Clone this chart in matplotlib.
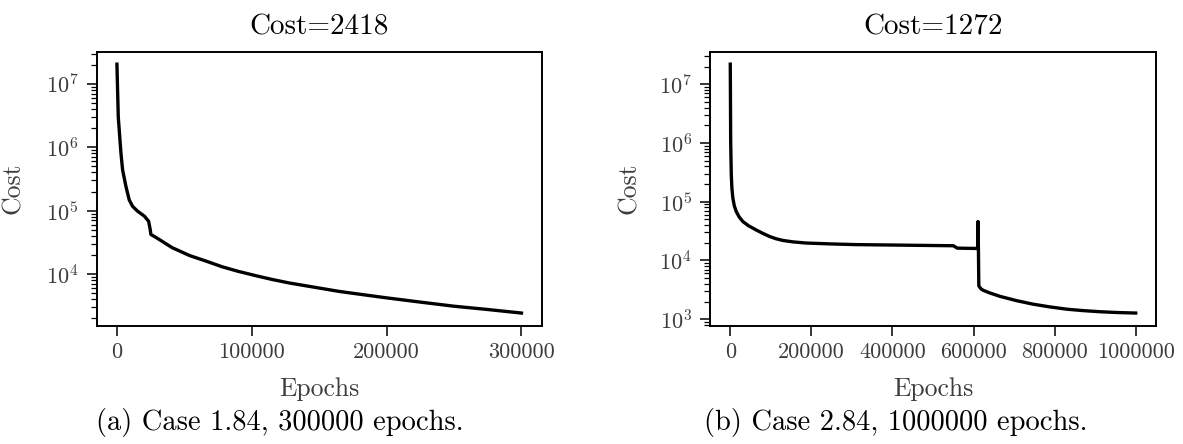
import matplotlib
matplotlib.use("Agg")
import matplotlib.pyplot as plt

plt.rcParams.update({
    "font.family": "serif",
    "font.serif": ["cmr10"],
    "mathtext.fontset": "cm",
    "axes.formatter.use_mathtext": True,
    "axes.unicode_minus": False,
})

# Case 1.84: cost history over 300000 epochs
epochs_a = [0, 1000, 3000, 4200, 6700, 9100, 11600, 15300, 20300, 23500,
            24700, 25200, 29000, 41000, 54000, 66000, 78000, 90000, 103000,
            115000, 128000, 150000, 165000, 183000, 200000, 225000, 250000,
            275000, 300000]
cost_a = [2.05e7, 3.0e6, 8.0e5, 4.4e5, 2.4e5, 1.48e5, 1.17e5, 9.8e4, 8.2e4, 6.8e4,
          5.0e4, 4.2e4, 3.77e4, 2.6e4, 1.95e4, 1.6e4, 1.3e4, 1.1e4, 9.4e3,
          8.2e3, 7.2e3, 6.0e3, 5.3e3, 4.7e3, 4.2e3, 3.6e3, 3.1e3,
          2.75e3, 2418]

# Case 2.84: cost history over 1000000 epochs
epochs_b = [0, 500, 1000, 2500, 4000, 6400, 10000, 14800, 22000, 31000,
            45000, 64000, 80000, 97000, 112000, 130000, 155000, 187000, 250000,
            311000, 430000, 550000, 555000, 560000, 607000, 610000, 611000,
            612000, 613000, 618000, 624000, 640000, 665000, 706000, 747000,
            788000, 830000, 870000, 912000, 953000, 1000000]
cost_b = [2.2e7, 5.0e6, 1.07e6, 2.9e5, 1.7e5, 1.15e5, 8.5e4, 6.8e4, 5.5e4, 4.6e4,
          3.9e4, 3.3e4, 2.9e4, 2.56e4, 2.35e4, 2.19e4, 2.07e4, 1.98e4, 1.91e4,
          1.86e4, 1.82e4, 1.78e4, 1.7e4, 1.62e4, 1.6e4, 1.6e4, 4.6e4,
          1.6e4, 3.7e3, 3.3e3, 3.1e3, 2.8e3, 2.45e3, 2.07e3, 1.8e3,
          1.62e3, 1.48e3, 1.4e3, 1.34e3, 1.3e3, 1272]

titles = ["Cost=2418", "Cost=1272"]
captions = ["(a) Case 1.84, 300000 epochs.", "(b) Case 2.84, 1000000 epochs."]
xticks_a = [0, 100000, 200000, 300000]
xticks_b = [0, 200000, 400000, 600000, 800000, 1000000]

W, H = 1183, 444
fig = plt.figure(figsize=(W / 100, H / 100), dpi=100)

label_color = "#3c3c3c"

def px_rect(x0, y0, x1, y1):
    return [x0 / W, 1 - y1 / H, (x1 - x0) / W, (y1 - y0) / H]

ax_a = fig.add_axes(px_rect(96.7, 51.7, 541.7, 325.5))
ax_b = fig.add_axes(px_rect(710, 51.7, 1156, 325.5))

panels = [
    (ax_a, epochs_a, cost_a, xticks_a, titles[0]),
    (ax_b, epochs_b, cost_b, xticks_b, titles[1]),
]

for ax, ep, cost, xt, title in panels:
    ax.plot(ep, cost, color="black", lw=2.4, solid_joinstyle="round")
    ax.set_yscale("log")
    ax.set_xticks(xt)
    ax.set_xticklabels([str(v) for v in xt])
    ax.tick_params(axis="both", which="major", direction="out", length=7,
                   width=1.1, labelsize=16, labelcolor=label_color, pad=5.5)
    ax.tick_params(axis="y", which="minor", direction="out", length=4, width=0.9)
    ax.tick_params(axis="y", which="major", pad=6)
    for s in ax.spines.values():
        s.set_linewidth(1.4)
    ax.set_title(title, fontsize=21, pad=12.5)
    ax.set_xlabel("Epochs", fontsize=18.5, color=label_color)
    ax.set_ylabel("Cost", fontsize=18.5, color=label_color)
    ax.xaxis.set_label_coords(0.5, -0.19)

ax_a.yaxis.set_label_coords(-0.16, 0.5)
ax_b.yaxis.set_label_coords(-0.155, 0.5)

fig.text(280 / W, 1 - 430 / H, captions[0], ha="center", va="baseline", fontsize=20.5)
fig.text(896 / W, 1 - 430 / H, captions[1], ha="center", va="baseline", fontsize=20.5)

fig.savefig("out.png", dpi=100)
